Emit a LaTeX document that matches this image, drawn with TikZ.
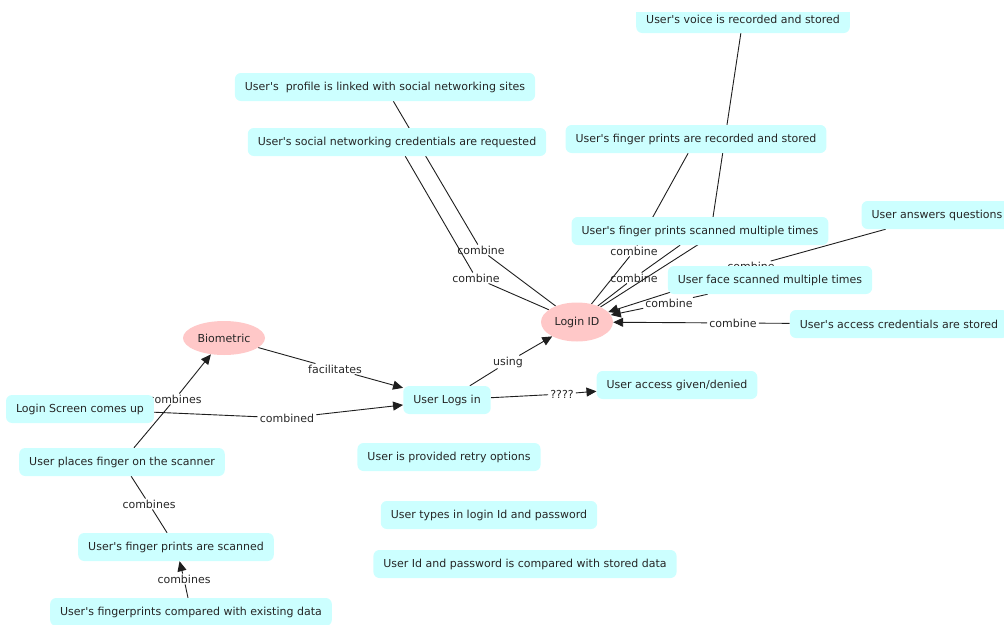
\documentclass[tikz,border=0pt]{standalone}
\usepackage{fontspec}
\setmainfont{DejaVu Sans}[Ligatures=TeXOff]
\usetikzlibrary{arrows.meta}
\pgfdeclarelayer{links}
\pgfsetlayers{links,main}
\definecolor{conceptfill}{RGB}{204,255,255}
\definecolor{ovalfill}{RGB}{255,200,200}
\definecolor{linkcol}{RGB}{30,30,30}
\tikzset{
  concept/.style={draw=none, fill=conceptfill, rounded corners=6pt,
    inner xsep=10pt, inner ysep=0pt, minimum height=28pt,
    font=\fontsize{11}{13}\selectfont, text=black!85},
  oval/.style={ellipse, draw=none, fill=ovalfill, inner sep=0pt,
    font=\fontsize{11}{13}\selectfont, text=black!85},
  phrase/.style={inner xsep=2pt, inner ysep=1pt,
    font=\fontsize{11}{13}\selectfont, text=black!85},
  link/.style={draw=linkcol, line width=0.9pt},
  arrowlink/.style={link, -{Triangle[length=10pt,width=9pt]}},
}
\usetikzlibrary{shapes.geometric}
\begin{document}
\begin{tikzpicture}[x=1pt,y=-1pt]
\useasboundingbox (0,0) rectangle (1004,624);
\clip (0,12.5) rectangle (1004,624);

% concepts
\node[concept] (voice)    at (743,19)  {User's voice is recorded and stored};
\node[concept] (profile)  at (385,87)  {User's\ \ profile is linked with social networking sites};
\node[concept] (cred)     at (397,142) {User's social networking credentials are requested};
\node[concept] (recorded) at (696,139) {User's finger prints are recorded and stored};
\node[concept] (multi)    at (700,231) {User's finger prints scanned multiple times};
\node[concept] (answers)  at (937,215) {User answers questions};
\node[concept] (face)     at (770,280) {User face scanned multiple times};
\node[concept] (access)   at (899,324) {User's access credentials are stored};
\node[oval, minimum width=72pt, minimum height=39pt] (login) at (577,322) {Login ID};
\node[oval, minimum width=82pt, minimum height=34pt] (bio) at (224,338) {Biometric};
\node[concept] (given)    at (677,385) {User access given/denied};
\node[concept] (logs)     at (447,400) {User Logs in};
\node[concept] (screen)   at (80,409)  {Login Screen comes up};
\node[concept] (finger)   at (122,462) {User places finger on the scanner};
\node[concept] (retry)    at (449,457) {User is provided retry options};
\node[concept] (types)    at (489,515) {User types in login Id and password};
\node[concept] (idcomp)   at (525,564) {User Id and password is compared with stored data};
\node[concept] (scanned)  at (176,547) {User's finger prints are scanned};
\node[concept] (compared) at (191,612) {User's fingerprints compared with existing data};

\begin{pgfonlayer}{links}
  % linking phrases
  \node[phrase] (lprofile) at (481,250) {combine};
  \node[phrase] (lcred)    at (476,278) {combine};
  \node[phrase] (lrec)     at (634,251) {combine};
  \node[phrase] (lmulti)   at (634,278) {combine};
  \coordinate (lvoice) at (710,237);
  \node[phrase] (lface)    at (669,303) {combine};
  \node[phrase] (lanswers) at (751,266.5) {combine};
  \node[phrase] (laccess)  at (733,323) {combine};
  \node[phrase] (lusing)   at (508,362) {using};
  \node[phrase] (lquery)   at (562,394) {????};
  \node[phrase] (lfacil)   at (335,369) {facilitates};
  \node[phrase] (lcombd)   at (287,418) {combined};
  \node[phrase] (lfinger)  at (175,399) {combines};
  \node[phrase] (lscan)    at (149,504) {combines};
  \node[phrase] (lcomp)    at (184,579) {combines};

  % connectors
  \draw[link] (profile) -- (lprofile);  \draw[link] (lprofile) -- (login);
  \draw[link] (cred) -- (lcred);        \draw[link] (lcred) -- (login);
  \draw[link] (recorded) -- (lrec);     \draw[link] (lrec) -- (login);
  \draw[link] (multi) -- (lmulti);      \draw[link] (lmulti) -- (login);
  \draw[link] (voice) -- (lvoice) -- (login);
  \draw[link] (face) -- (lface);        \draw[arrowlink] (lface) -- (login);
  \draw[link] (answers) -- (lanswers);  \draw[arrowlink] (lanswers) -- (login);
  \draw[link] (access) -- (laccess);    \draw[arrowlink] (laccess) -- (login);
  \draw[link] (logs) -- (lusing);       \draw[arrowlink] (lusing) -- (login);
  \draw[link] (logs) -- (lquery);       \draw[arrowlink] (lquery) -- (given);
  \draw[link] (bio) -- (lfacil);        \draw[arrowlink] (lfacil) -- (logs);
  \draw[link] (screen) -- (lcombd);     \draw[arrowlink] (lcombd) -- (logs);
  \draw[link] (finger) -- (lfinger);    \draw[arrowlink] (lfinger) -- (bio);
  \draw[link] (scanned) -- (lscan);     \draw[link] (lscan) -- (finger);
  \draw[link] (compared) -- (lcomp);    \draw[arrowlink] (lcomp) -- (scanned);
\end{pgfonlayer}
\end{tikzpicture}
\end{document}
